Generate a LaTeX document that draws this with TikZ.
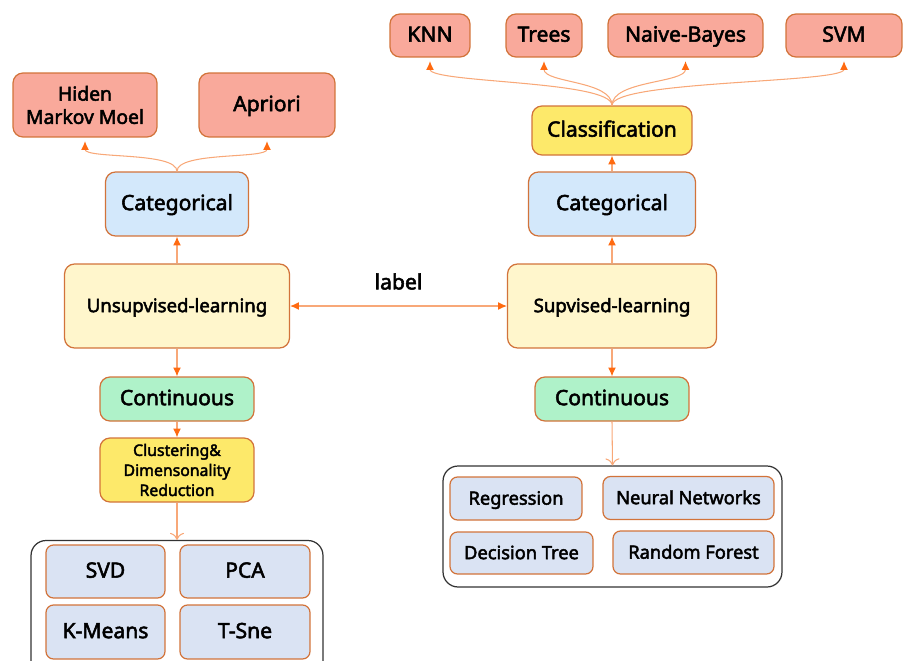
\documentclass[tikz,border=0pt]{standalone}
\usepackage{fontspec}
\setmainfont{Noto Sans}[FakeBold=2.5]
\usepackage{tikz}
\usetikzlibrary{arrows.meta, calc}

\definecolor{boxline}{HTML}{D2733A}
\definecolor{arrline}{HTML}{F8A878}
\definecolor{arrhead}{HTML}{FF6A10}
\definecolor{redfill}{HTML}{F9A99B}
\definecolor{bluefill}{HTML}{D3E8FB}
\definecolor{learnfill}{HTML}{FFF6CC}
\definecolor{greenfill}{HTML}{AFF2C9}
\definecolor{goldfill}{HTML}{FDE96A}
\definecolor{leaffill}{HTML}{DAE3F3}

\tikzset{
 box/.style={draw=boxline, line width=0.7pt, rounded corners=0.2cm, align=center, inner sep=0pt},
 oneline/.style={text height=0.95em, text depth=0.25em},
 redbox/.style={box, fill=redfill},
 catbox/.style={box, oneline, fill=bluefill, minimum height=1.28cm, font=\fontsize{12}{14}\selectfont},
 learnbox/.style={box, oneline, fill=learnfill, minimum height=1.68cm, font=\fontsize{10.6}{12}\selectfont},
 contbox/.style={box, oneline, fill=greenfill, minimum height=0.88cm, minimum width=3.08cm, font=\fontsize{12}{14}\selectfont},
 goldbox/.style={box, fill=goldfill},
 leafbox/.style={box, oneline, fill=leaffill, rounded corners=0.15cm},
 groupbox/.style={draw=black!80, line width=0.7pt, rounded corners=0.3cm},
 tip/.tip={Latex[length=5pt, width=4.5pt, color=arrhead]},
 arr/.style={draw=arrline, line width=0.6pt, -tip},
 botharr/.style={draw=arrline, line width=0.6pt, tip-tip},
 openarr/.style={draw=arrline, line width=0.6pt, -{To[length=4pt, width=8pt]}}
}

\begin{document}
\begin{tikzpicture}[x=0.02cm, y=-0.02cm]

 %%Paramaters
%% column centres, in pixels of the picture
\def\LeftPos{177}
\def\RightPos{612}
\useasboundingbox (0, 0) rectangle (903, 660);

 %% ***Groups : drawn first, behind the leaves***
\node[groupbox, minimum width=5.84cm, minimum height=2.7cm] at (\LeftPos, 608) (unsupgroup) {};
\node[groupbox, minimum width=6.78cm, minimum height=2.42cm] at (612.5, 526.5) (supgroup) {};

 %% ***Left : unsupervised learning***
\node[learnbox, minimum width=4.5cm] at (\LeftPos, 306) (unsup) {Unsupvised-learning};
\node[catbox, minimum width=2.86cm] at (\LeftPos, 204) (catleft) {Categorical};
\node[contbox] at (\LeftPos, 399) (contleft) {Continuous};
\node[goldbox, minimum width=3.08cm, minimum height=1.28cm, font=\fontsize{9}{11.4}\selectfont] at (\LeftPos, 470) (cluster) {Clustering\&\\Dimensonality\\Reduction};

                \node[redbox, minimum width=2.88cm, minimum height=1.28cm, font=\fontsize{11}{13.2}\selectfont] at (85, 105) (hmm) {Hiden\\Markov Moel};
                \node[redbox, oneline, minimum width=2.72cm, minimum height=1.28cm, font=\fontsize{12}{14}\selectfont] at (267, 105) (apriori) {Apriori};

                \node[leafbox, minimum width=2.38cm, minimum height=1.06cm, font=\fontsize{12}{14}\selectfont] at (105.5, 571.5) (svd) {SVD};
                \node[leafbox, minimum width=2.6cm, minimum height=1.06cm, font=\fontsize{12}{14}\selectfont] at (245, 571.5) (pca) {PCA};
                \node[leafbox, minimum width=2.38cm, minimum height=1.08cm, font=\fontsize{12}{14}\selectfont] at (105.5, 632) (kmeans) {K-Means};
                \node[leafbox, minimum width=2.6cm, minimum height=1.08cm, font=\fontsize{12}{14}\selectfont] at (245, 632) (tsne) {T-Sne};

% up
\draw[arr] (unsup.north) -- (catleft.south);
\draw[arr] (catleft.north) .. controls +(0, -20) and +(0, 18) .. ([yshift=-2pt]hmm.south);
\draw[arr] (catleft.north) .. controls +(0, -20) and +(0, 18) .. ([yshift=-2pt]apriori.south);
% down
\draw[arr] (unsup.south) -- (contleft.north);
\draw[arr] (contleft.south) -- (cluster.north);
\draw[openarr] (cluster.south) -- (unsupgroup.north);

 %% ***Right : supervised learning***
\node[learnbox, minimum width=4.18cm] at (\RightPos, 306) (sup) {Supvised-learning};
\node[catbox, minimum width=3.34cm] at (\RightPos, 204) (catright) {Categorical};
\node[goldbox, oneline, minimum width=3.2cm, minimum height=0.98cm, font=\fontsize{12}{14}\selectfont] at (\RightPos, 130.5) (classif) {Classification};
\node[contbox] at (\RightPos, 399) (contright) {Continuous};

                \node[redbox, oneline, minimum width=1.6cm, minimum height=0.86cm, font=\fontsize{12}{14}\selectfont] at (430, 35.5) (knn) {KNN};
                \node[redbox, oneline, minimum width=1.52cm, minimum height=0.86cm, font=\fontsize{12}{14}\selectfont] at (544, 35.5) (trees) {Trees};
                \node[redbox, oneline, minimum width=3.1cm, minimum height=0.86cm, font=\fontsize{12}{14}\selectfont] at (685.5, 35.5) (naive) {Naive-Bayes};
                \node[redbox, oneline, minimum width=2.32cm, minimum height=0.86cm, font=\fontsize{12}{14}\selectfont] at (844, 35.5) (svm) {SVM};

                \node[leafbox, minimum width=2.64cm, minimum height=0.86cm, font=\fontsize{10.4}{12}\selectfont] at (516, 498.5) (regr) {Regression};
                \node[leafbox, minimum width=3.42cm, minimum height=0.86cm, font=\fontsize{10.4}{12}\selectfont] at (688.5, 498) (neural) {Neural Networks};
                \node[leafbox, minimum width=2.86cm, minimum height=0.84cm, font=\fontsize{10.4}{12}\selectfont] at (521.5, 553) (dtree) {Decision Tree};
                \node[leafbox, minimum width=3.22cm, minimum height=0.86cm, font=\fontsize{10.4}{12}\selectfont] at (693.5, 552.5) (forest) {Random Forest};

% up
\draw[arr] (sup.north) -- (catright.south);
\draw[arr] (catright.north) -- (classif.south);
\draw[arr] (classif.north) .. controls +(0, -25) and +(0, 22) .. ([yshift=-2pt]knn.south);
\draw[arr] (classif.north) .. controls +(0, -25) and +(0, 22) .. ([yshift=-2pt]trees.south);
\draw[arr] (classif.north) .. controls +(0, -25) and +(0, 22) .. ([yshift=-2pt]naive.south);
\draw[arr] (classif.north) .. controls +(0, -25) and +(0, 22) .. ([yshift=-2pt]svm.south);
% down
\draw[arr] (sup.south) -- (contright.north);
\draw[openarr] (contright.south) -- (supgroup.north);

 %% ***Link between the two***
\draw[botharr] (unsup.east) -- node[above=0.2cm, text=black, font=\fontsize{12}{14}\selectfont]{label} (sup.west);

 \end{tikzpicture}
\end{document}
